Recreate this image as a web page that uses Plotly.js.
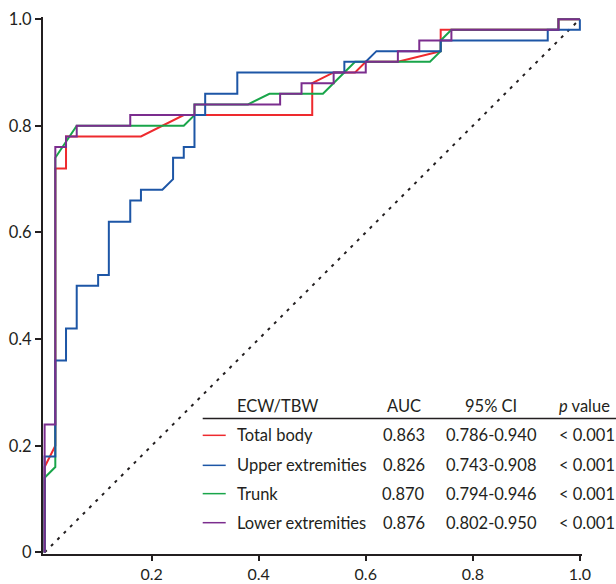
<!DOCTYPE html>
<html>
<head>
<meta charset="utf-8">
<script src="https://cdn.plot.ly/plotly-3.0.1.min.js"></script>
<style>html,body{margin:0;padding:0;background:#fff;}#chart{width:616px;height:584px;}</style>
</head>
<body>
<div id="chart"></div>
<script>
// ROC coordinates (1 - specificity, sensitivity)
const totalBodyX = [0,0,0.02,0.02,0.04,0.04,0.18,0.26,0.50,0.50,0.54,0.58,0.60,0.66,0.74,0.74,0.96,0.96,1];
const totalBodyY = [0,0.16,0.20,0.72,0.72,0.78,0.78,0.82,0.82,0.88,0.90,0.90,0.92,0.92,0.94,0.98,0.98,1,1];

const upperX = [0,0,0.02,0.02,0.04,0.04,0.06,0.06,0.10,0.10,0.12,0.12,0.16,0.16,0.18,0.18,0.22,0.24,0.24,0.26,0.26,0.28,0.28,0.30,0.30,0.36,0.36,0.56,0.56,0.60,0.62,0.74,0.74,0.94,0.94,1,1];
const upperY = [0,0.18,0.18,0.36,0.36,0.42,0.42,0.50,0.50,0.52,0.52,0.62,0.62,0.66,0.66,0.68,0.68,0.70,0.74,0.74,0.76,0.76,0.82,0.82,0.86,0.86,0.90,0.90,0.92,0.92,0.94,0.94,0.96,0.96,0.98,0.98,1];

const trunkX = [0,0,0.02,0.02,0.06,0.26,0.28,0.28,0.38,0.42,0.52,0.58,0.72,0.74,0.74,0.76,0.96,0.96,1];
const trunkY = [0,0.14,0.16,0.74,0.80,0.80,0.82,0.84,0.84,0.86,0.86,0.92,0.92,0.94,0.96,0.98,0.98,1,1];

const lowerX = [0,0,0.02,0.02,0.04,0.04,0.06,0.06,0.16,0.16,0.28,0.28,0.44,0.44,0.48,0.48,0.54,0.54,0.60,0.60,0.66,0.66,0.70,0.70,0.76,0.76,0.96,0.96,1];
const lowerY = [0,0.24,0.24,0.76,0.76,0.78,0.78,0.80,0.80,0.82,0.82,0.84,0.84,0.86,0.86,0.88,0.88,0.90,0.90,0.92,0.92,0.94,0.94,0.96,0.96,0.98,0.98,1,1];

const refX = [0,1];
const refY = [0,1];

const seriesNames = ["Total body","Upper extremities","Trunk","Lower extremities"];
const aucValues = ["0.863","0.826","0.870","0.876"];
const ciValues = ["0.786-0.940","0.743-0.908","0.794-0.946","0.802-0.950"];
const pValues = ["< 0.001","< 0.001","< 0.001","< 0.001"];
const headers = ["ECW/TBW","AUC","95% CI","<i>p</i> value"];

const xTickVals = [0.2,0.4,0.6,0.8,1.0];
const xTickText = ["0.2","0.4","0.6","0.8","1.0"];
const yTickVals = [0,0.2,0.4,0.6,0.8,1.0];
const yTickText = ["0","0.2","0.4","0.6","0.8","1.0"];

const colors = ["#ee2a2e","#1d56a6","#19a54a","#7b2d8e"];
const FONT = "Lato, 'Open Sans', sans-serif";
const txtColor = "#231f20";

const seriesX = [totalBodyX, upperX, trunkX, lowerX];
const seriesY = [totalBodyY, upperY, trunkY, lowerY];

const traces = [{
  x: refX, y: refY, mode: "lines", hoverinfo: "skip",
  line: {color: "#231f20", width: 2, dash: "3px,6px"}
}];
const order = [0,2,1,3];
order.forEach(i => {
  traces.push({x: seriesX[i], y: seriesY[i], mode: "lines", name: seriesNames[i],
    line: {color: colors[i], width: 2}});
});

// Legend table positions in paper coordinates
const rowY = [0.2210, 0.1651, 0.1124, 0.0583];
const headY = 0.2756;
const colLabel = 0.3557, colAuc = 0.6694, colCi = 0.8318, colP = 0.9534;

const annotations = [];
const fnt = {family: FONT, size: 16.5, color: txtColor};
annotations.push({xref:"paper",yref:"paper",x:colLabel,y:headY,xanchor:"left",yanchor:"middle",text:headers[0],showarrow:false,font:fnt});
annotations.push({xref:"paper",yref:"paper",x:colAuc,y:headY,xanchor:"center",yanchor:"middle",text:headers[1],showarrow:false,font:fnt});
annotations.push({xref:"paper",yref:"paper",x:colCi,y:headY,xanchor:"center",yanchor:"middle",text:headers[2],showarrow:false,font:fnt});
annotations.push({xref:"paper",yref:"paper",x:colP,y:headY,xanchor:"left",yanchor:"middle",text:headers[3],showarrow:false,font:fnt});
const shapes = [{type:"line",xref:"paper",yref:"paper",x0:0.2963,x1:1.08,y0:0.2521,y1:0.2521,line:{color:txtColor,width:1.5}}];
for (let i=0;i<4;i++){
  annotations.push({xref:"paper",yref:"paper",x:colLabel,y:rowY[i],xanchor:"left",yanchor:"middle",text:seriesNames[i],showarrow:false,font:fnt});
  annotations.push({xref:"paper",yref:"paper",x:colAuc,y:rowY[i],xanchor:"center",yanchor:"middle",text:aucValues[i],showarrow:false,font:fnt});
  annotations.push({xref:"paper",yref:"paper",x:colCi,y:rowY[i],xanchor:"center",yanchor:"middle",text:ciValues[i],showarrow:false,font:fnt});
  annotations.push({xref:"paper",yref:"paper",x:colP,y:rowY[i],xanchor:"left",yanchor:"middle",text:pValues[i],showarrow:false,font:fnt});
  shapes.push({type:"line",xref:"paper",yref:"paper",x0:0.2963,x1:0.339,y0:rowY[i],y1:rowY[i],line:{color:colors[i],width:1.5}});
}

const layout = {
  width: 616, height: 584,
  margin: {l:43.4, r:33.9, t:16.9, b:30.4, pad:0},
  paper_bgcolor: "#fff", plot_bgcolor: "#fff",
  showlegend: false,
  font: {family: FONT, size: 16.5, color: txtColor},
  xaxis: {range:[-0.003,1.004], showgrid:false, zeroline:false, showline:true, linecolor:txtColor, linewidth:2,
    ticks:"outside", ticklen:5, tickwidth:2, tickcolor:txtColor,
    tickvals:xTickVals, ticktext:xTickText, tickfont:{family:FONT,size:16,color:txtColor}, fixedrange:true},
  yaxis: {range:[-0.003,1.004], showgrid:false, zeroline:false, showline:true, linecolor:txtColor, linewidth:2,
    ticks:"outside", ticklen:6, tickwidth:2, tickcolor:txtColor,
    tickvals:yTickVals, ticktext:yTickText, tickfont:{family:FONT,size:16.5,color:txtColor}, fixedrange:true},
  annotations: annotations,
  shapes: shapes
};

Plotly.newPlot("chart", traces, layout, {displayModeBar:false, staticPlot:true});
</script>
</body>
</html>
